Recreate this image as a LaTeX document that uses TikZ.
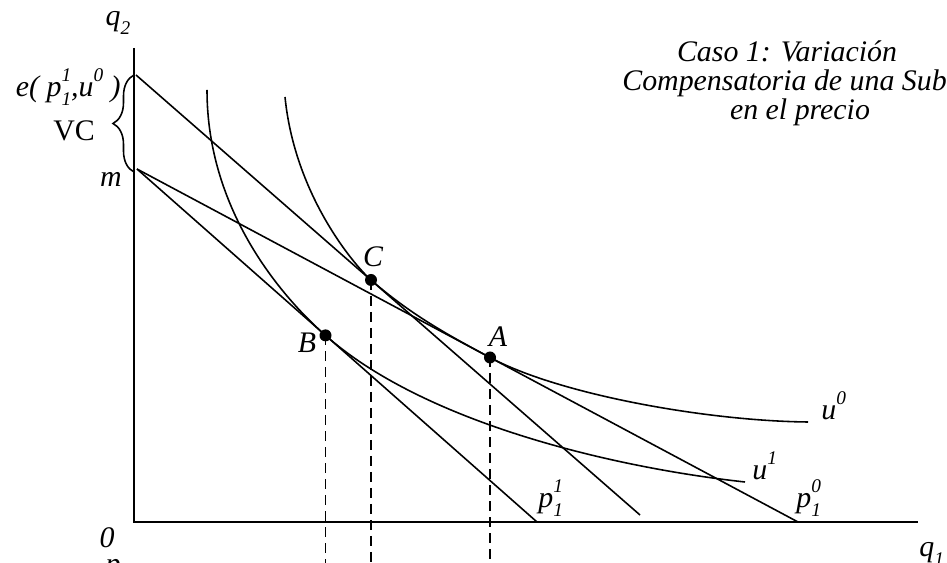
\documentclass[tikz,border=0pt]{standalone}
\usepackage{fontspec}
\setmainfont{Liberation Serif}
\usetikzlibrary{decorations.pathreplacing}
\newcommand{\upidx}[1]{\raisebox{1.15ex}{\fontsize{11}{11}\selectfont #1}}
\newcommand{\dnidx}[1]{\raisebox{-0.6ex}{\fontsize{11}{11}\selectfont #1}}
\newcommand{\supsub}[3]{#1\rlap{\upidx{#3}}\dnidx{#2}}
\begin{document}
\begin{tikzpicture}[x=0.02cm, y=-0.02cm,
    lbl/.style={font=\fontsize{17}{20}\selectfont\itshape, inner sep=0pt},
    curve/.style={line width=0.9pt},
    axis/.style={line width=1.1pt},
    guide/.style={line width=0.9pt, dash pattern=on 0.2cm off 0.12cm},
    dot/.style={circle, fill=black, inner sep=0pt, minimum size=0.24cm}]
    \useasboundingbox (0,0) rectangle (947,563);

    % Axes
    \coordinate (O) at (134,522);
    \coordinate (ytop) at (134,48);
    \coordinate (xend) at (918,522);
    \coordinate (bot) at (0,563);
    \draw[axis] (ytop) -- (O) -- (xend);

    % Budget lines
    \coordinate (e) at (136,75);
    \coordinate (m) at (137,169);
    \coordinate (pone) at (537,522);
    \coordinate (pzero) at (798,522);
    \coordinate (comp) at (640,515);
    \draw[curve] (m) -- (pone);
    \draw[curve] (m) -- (pzero);
    \draw[curve] (e) -- (comp);

    % Tangency points
    \coordinate (A) at (490,357.5);
    \coordinate (B) at (325.5,335.4);
    \coordinate (C) at (371,280);

    % Indifference curves
    \draw[curve] (285,97) .. controls (295,197) and (356,266.9) .. (C)
        .. controls (411,314.9) and (450,336.1) .. (A)
        .. controls (560,394.9) and (708,421) .. (808,422);
    \draw[curve] (207,90) .. controls (207,211) and (282.2,297.2) .. (B)
        .. controls (425.5,423.7) and (615,467.7) .. (745,482);

    % Dashed guides and dots
    \draw[guide] (A) -- (A |- bot);
    \draw[guide] (B) -- (B |- bot);
    \draw[guide] (C) -- (C |- bot);
    \node[dot] (Adot) at (A) {};
    \node[dot] (Bdot) at (B) {};
    \node[dot] (Cdot) at (C) {};

    % Brace for VC
    \draw[curve, decorate, decoration={brace, amplitude=0.42cm}] (134,172) -- (134,75);

    % Labels
    \node[lbl, anchor=base] (q2lbl) at (118,26) {q\dnidx{2}};
    \node[lbl, anchor=base west] (q1lbl) at (919,557) {q\dnidx{1}};
    \node[lbl, anchor=base] (zerolbl) at (107,548) {0};
    \node[lbl, anchor=base] (plbl) at (113,574) {p};
    \node[lbl, anchor=base east] (elbl) at (121,97) {e(\ \supsub{p}{1}{1},u\upidx{0}\ )};
    \node[lbl, font=\fontsize{17}{20}\selectfont, anchor=base] (vclbl) at (74,141) {VC};
    \node[lbl, anchor=base] (mlbl) at (111,187) {m};
    \node[lbl, anchor=base] (Albl) at (498,347) {A};
    \node[lbl, anchor=base] (Blbl) at (307,353) {B};
    \node[lbl, anchor=base] (Clbl) at (373,267) {C};
    \node[lbl, anchor=base west] (u0lbl) at (821,420) {u\upidx{0}};
    \node[lbl, anchor=base west] (u1lbl) at (752,480) {u\upidx{1}};
    \node[lbl, anchor=base west] (p11lbl) at (538,508) {\supsub{p}{1}{1}};
    \node[lbl, anchor=base west] (p10lbl) at (796,508) {\supsub{p}{1}{0}};

    % Title
    \node[lbl, anchor=base] (title1) at (787,62) {Caso 1: Variación};
    \node[lbl, anchor=base west] (title2) at (622,91) {Compensatoria de una Subida};
    \node[lbl, anchor=base] (title3) at (800,120) {en el precio};
\end{tikzpicture}
\end{document}
